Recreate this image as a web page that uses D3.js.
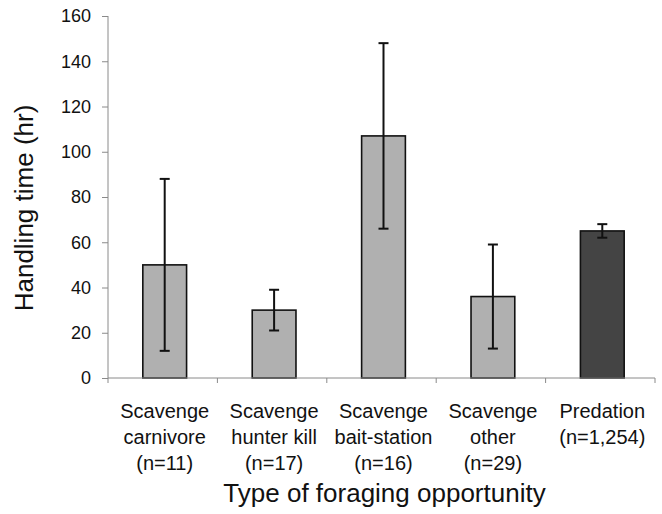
<!DOCTYPE html>
<html>
<head>
<meta charset="utf-8">
<script src="https://cdn.jsdelivr.net/npm/d3@7"></script>
<style>
  body { margin: 0; background: #fff; }
  svg { font-family: "Liberation Sans", Arial, sans-serif; }
</style>
</head>
<body>
<svg width="662" height="514"></svg>
<script>
// data
var categories = [
  ["Scavenge", "carnivore", "(n=11)"],
  ["Scavenge", "hunter kill", "(n=17)"],
  ["Scavenge", "bait-station", "(n=16)"],
  ["Scavenge", "other", "(n=29)"],
  ["Predation", "(n=1,254)"]
]
var means = [50, 30, 107, 36, 65]
var errors = [38, 9, 41, 23, 3]
var barColors = ["#b0b0b0", "#b0b0b0", "#b0b0b0", "#b0b0b0", "#444444"]
var yTicks = [0, 20, 40, 60, 80, 100, 120, 140, 160]

var svg = d3.select("svg")
var plotL = 108, plotR = 655, plotT = 16, plotB = 378

var x = d3.scaleBand().domain(d3.range(categories.length)).range([plotL, plotR])
var y = d3.scaleLinear().domain([0, 160]).range([plotB, plotT])
var barW = x.bandwidth() * 0.4
function mid(i) { return x(i) + x.bandwidth()/2 + 2 }

// bars
svg.selectAll("rect.bar").data(means).enter().append("rect")
    .attr("class", "bar")
    .attr("x", function(d, i) { return mid(i) - barW/2 })
    .attr("y", function(d) { return y(d) })
    .attr("width", barW)
    .attr("height", function(d) { return y(0) - y(d) })
    .attr("fill", function(d, i) { return barColors[i] })
    .attr("stroke", "#111")
    .attr("stroke-width", 1.6)

// error bars
var eb = svg.selectAll("g.err").data(means).enter().append("g")
    .attr("class", "err")
    .attr("transform", function(d, i) { return "translate(" + mid(i) + ",0)" })
eb.append("line")
    .attr("y1", function(d, i) { return y(d + errors[i]) })
    .attr("y2", function(d, i) { return y(d - errors[i]) })
eb.append("line").attr("x1", -5).attr("x2", 5)
    .attr("y1", function(d, i) { return y(d + errors[i]) })
    .attr("y2", function(d, i) { return y(d + errors[i]) })
eb.append("line").attr("x1", -5).attr("x2", 5)
    .attr("y1", function(d, i) { return y(d - errors[i]) })
    .attr("y2", function(d, i) { return y(d - errors[i]) })
eb.selectAll("line").attr("stroke", "#111").attr("stroke-width", 2)

// y axis
var yAxis = svg.append("g")
    .attr("transform", "translate(" + plotL + ",0)")
    .call(d3.axisLeft(y).tickValues(yTicks).tickSize(6).tickPadding(11))
yAxis.selectAll("text").attr("font-size", 18).attr("fill", "#111").attr("font-family", null)
yAxis.select(".domain").attr("d", "M0," + plotT + "V" + plotB)

// x axis: ticks on band edges
var xAxis = svg.append("g").attr("transform", "translate(0," + plotB + ")")
xAxis.append("line").attr("x1", plotL).attr("x2", plotR)
xAxis.selectAll("line.tk").data(d3.range(categories.length + 1)).enter().append("line")
    .attr("class", "tk")
    .attr("x1", function(i) { return plotL + i * x.step() })
    .attr("x2", function(i) { return plotL + i * x.step() })
    .attr("y1", 0).attr("y2", 5)
svg.selectAll(".domain, .tick line").attr("stroke", "#8a8a8a")
xAxis.selectAll("line").attr("stroke", "#8a8a8a")

// category labels
var lab = svg.selectAll("text.cat").data(categories).enter().append("text")
    .attr("class", "cat")
    .attr("text-anchor", "middle")
    .attr("font-size", 20)
    .attr("fill", "#111")
    .attr("transform", function(d, i) { return "translate(" + mid(i) + ",418)" })
lab.selectAll("tspan").data(function(d) { return d }).enter().append("tspan")
    .attr("x", 0)
    .attr("y", function(d, j) { return j * 26 })
    .text(function(d) { return d })

// axis titles
svg.append("text")
    .attr("x", (plotL + plotR) / 2 + 3).attr("y", 502)
    .attr("text-anchor", "middle").attr("font-size", 26).attr("fill", "#111")
    .text("Type of foraging opportunity")
svg.append("text")
    .attr("transform", "translate(33,208) rotate(-90)")
    .attr("text-anchor", "middle").attr("font-size", 26).attr("fill", "#111")
    .text("Handling time (hr)")
</script>
</body>
</html>
